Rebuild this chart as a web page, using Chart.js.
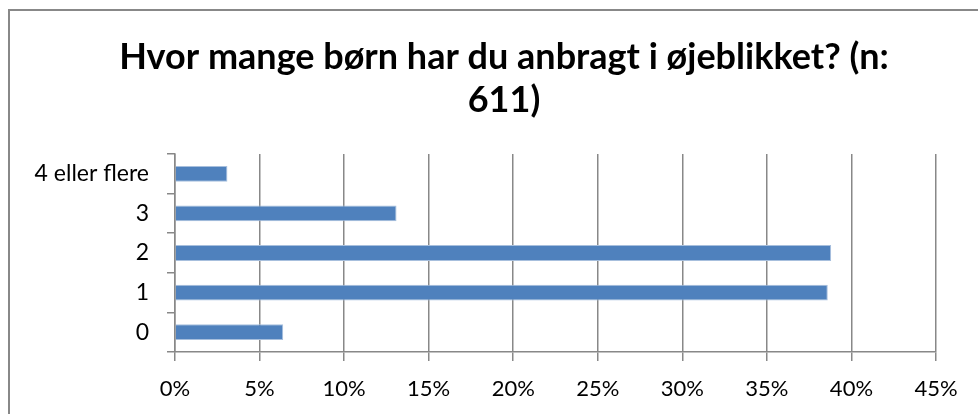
<!DOCTYPE html>
<html>
<head>
<meta charset="utf-8">
<script src="https://cdn.jsdelivr.net/npm/chart.js@4"></script>
<style>
    html, body { margin: 0; padding: 0; background: #fff; overflow: hidden; }
    #frame {
        position: absolute; left: 8px; top: 9px; width: 1000px; height: 430px;
        border: 2px solid #888888;
    }
    #wrap { position: absolute; left: 0; top: 0; width: 978px; height: 414px; }
</style>
</head>
<body>
<div id="frame"></div>
<div id="wrap"><canvas id="chart" width="978" height="414"></canvas></div>
<script>
    const titleLines = ['Hvor mange børn har du anbragt i øjeblikket? (n:', '611)'];
    const categories = ['4 eller flere', '3', '2', '1', '0'];
    const shares = [3.1, 13.1, 38.8, 38.6, 6.4];
    const xMax = 45;
    const xStep = 5;

    const gridColor = '#888888';
    const font = 'Lato';

    // the title sits a bit right of the canvas centre in the original
    const shiftTitle = {
        id: 'shiftTitle',
        afterLayout(chart) {
            const t = chart.titleBlock;
            t.left += 36;
            t.right += 36;
        }
    };

    const config = {
        type: 'bar',
        data: {
            labels: categories,
            datasets: [{
                data: shares,
                backgroundColor: '#4f81bd',
                borderColor: '#a7bfdd',
                borderWidth: 1,
                barPercentage: 0.4,
                categoryPercentage: 1
            }]
        },
        options: {
            indexAxis: 'y',
            responsive: false,
            animation: false,
            layout: {
                padding: {left: 0, right: 42, top: 0, bottom: 0}
            },
            plugins: {
                legend: {display: false},
                tooltip: {enabled: false},
                title: {
                    display: true,
                    text: titleLines,
                    color: '#000',
                    font: {family: font, size: 36, weight: 'bold', lineHeight: 43 / 36},
                    padding: {top: 36, bottom: 32}
                }
            },
            scales: {
                x: {
                    min: 0,
                    max: xMax,
                    ticks: {
                        stepSize: xStep,
                        color: '#000',
                        font: {family: font, size: 22},
                        padding: 15,
                        maxRotation: 0,
                        callback: (v) => v + '%'
                    },
                    grid: {color: gridColor, lineWidth: 1.5, tickLength: 9, drawTicks: true},
                    border: {color: gridColor, width: 1.5},
                    afterFit: (scale) => { scale.height = 62; }
                },
                y: {
                    offset: true,
                    ticks: {
                        color: '#000',
                        font: {family: font, size: 23},
                        padding: 18
                    },
                    grid: {drawOnChartArea: false, color: gridColor, lineWidth: 1.5, tickLength: 8, offset: true},
                    border: {color: gridColor, width: 1.5},
                    afterFit: (scale) => { scale.width = 175; }
                }
            }
        },
        plugins: [shiftTitle]
    };

    new Chart(document.getElementById('chart'), config);
</script>
</body>
</html>
